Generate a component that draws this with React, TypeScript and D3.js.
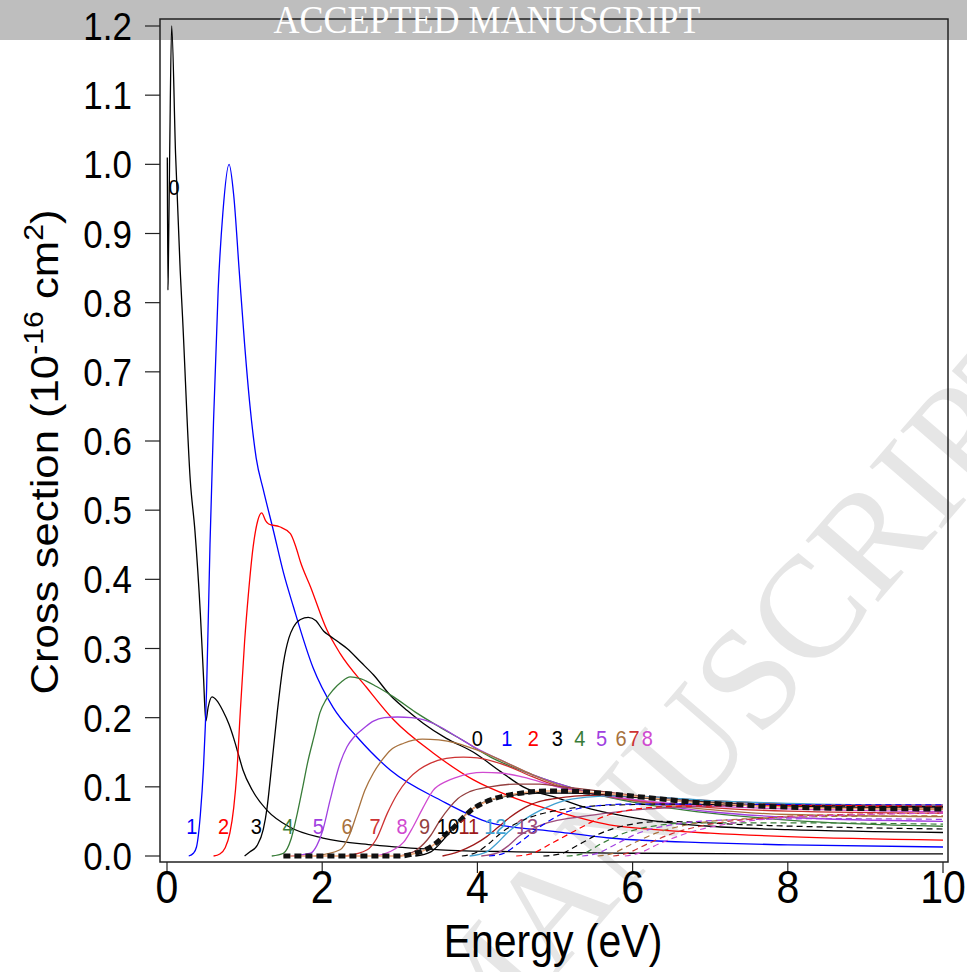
import React from "react";
import * as d3 from "d3";

type P = [number, number];

// ---- axis ticks ----
const xTicks = [0, 2, 4, 6, 8, 10];
const yTicks = [0, 0.1, 0.2, 0.3, 0.4, 0.5, 0.6, 0.7, 0.8, 0.9, 1.0, 1.1, 1.2];

// ---- solid curves (v' = 0 .. 13) ----
const curve0: P[] = [[0.004,1.01],[0.012,0.818],[0.017,0.85],[0.035,1.02],[0.06,1.2],[0.11,1.016],[0.17,0.847],[0.2,0.78],[0.3,0.543],[0.36,0.47],[0.43,0.35],[0.47,0.26],[0.5,0.195],[0.53,0.215],[0.58,0.23],[0.64,0.225],[0.72,0.21],[0.8,0.19],[0.86,0.17],[0.92,0.147],[0.98,0.124],[1.1,0.095],[1.29,0.066],[1.58,0.042],[2.01,0.026],[2.66,0.016],[3.52,0.009],[4.5,0.006],[6,0.004],[8,0.003],[10,0.003]];
const curve1: P[] = [[0.28,0],[0.34,0.004],[0.38,0.013],[0.43,0.06],[0.47,0.128],[0.51,0.24],[0.554,0.45],[0.6,0.63],[0.66,0.82],[0.72,0.93],[0.8,1.0],[0.86,0.955],[0.93,0.847],[1.0,0.74],[1.07,0.65],[1.15,0.575],[1.24,0.53],[1.37,0.471],[1.5,0.41],[1.63,0.36],[1.88,0.273],[2.14,0.215],[2.45,0.172],[2.88,0.124],[3.52,0.081],[4.17,0.048],[5.03,0.035],[5.7,0.026],[7,0.019],[8,0.016],[10,0.013]];
const curve2: P[] = [[0.6,0],[0.68,0.003],[0.75,0.012],[0.81,0.033],[0.86,0.07],[0.9,0.12],[0.94,0.2],[1.0,0.31],[1.05,0.38],[1.11,0.447],[1.17,0.485],[1.22,0.496],[1.27,0.485],[1.31,0.48],[1.45,0.476],[1.59,0.466],[1.66,0.447],[1.72,0.425],[1.85,0.389],[2.06,0.327],[2.23,0.293],[2.57,0.244],[2.92,0.197],[3.43,0.149],[3.95,0.11],[4.5,0.083],[5.03,0.064],[5.7,0.045],[6.3,0.038],[7,0.033],[8,0.028],[10,0.023]];
const curve3: P[] = [[1.0,0],[1.07,0.006],[1.16,0.015],[1.24,0.038],[1.29,0.07],[1.33,0.11],[1.42,0.207],[1.5,0.279],[1.57,0.315],[1.63,0.331],[1.72,0.342],[1.82,0.345],[1.92,0.34],[2.02,0.325],[2.1,0.318],[2.2,0.31],[2.32,0.3],[2.5,0.28],[2.66,0.262],[2.88,0.232],[3.1,0.21],[3.3,0.192],[3.6,0.17],[3.95,0.15],[4.3,0.122],[4.59,0.1],[5.03,0.084],[5.4,0.07],[5.7,0.062],[6.2,0.052],[7,0.043],[8,0.038],[10,0.034]];
const curve4: P[] = [[1.35,0],[1.5,0.004],[1.6,0.025],[1.68,0.062],[1.75,0.1],[1.81,0.134],[1.9,0.175],[1.97,0.207],[2.05,0.226],[2.14,0.24],[2.25,0.252],[2.36,0.259],[2.5,0.256],[2.7,0.245],[2.92,0.23],[3.2,0.208],[3.52,0.186],[3.8,0.168],[4.17,0.143],[4.6,0.122],[5.03,0.105],[5.5,0.09],[6,0.078],[7,0.062],[8,0.052],[10,0.043]];
const curve5: P[] = [[1.6,0],[1.85,0.004],[1.93,0.015],[2.01,0.038],[2.1,0.08],[2.23,0.134],[2.32,0.158],[2.41,0.172],[2.55,0.186],[2.66,0.195],[2.8,0.2],[2.97,0.201],[3.15,0.2],[3.3,0.197],[3.5,0.188],[3.74,0.172],[4.0,0.155],[4.39,0.134],[4.7,0.118],[5.03,0.105],[5.5,0.09],[6,0.08],[7,0.064],[8,0.056],[10,0.05]];
const curve6: P[] = [[1.9,0],[2.23,0.009],[2.35,0.03],[2.45,0.062],[2.55,0.095],[2.66,0.12],[2.78,0.14],[2.88,0.153],[3.05,0.163],[3.29,0.169],[3.5,0.168],[3.74,0.163],[4.0,0.153],[4.39,0.134],[4.7,0.118],[5.03,0.103],[5.5,0.09],[6,0.08],[7,0.067],[8,0.06],[10,0.057]];
const curve7: P[] = [[2.3,0],[2.58,0.009],[2.7,0.025],[2.84,0.062],[2.97,0.09],[3.1,0.11],[3.25,0.125],[3.39,0.134],[3.6,0.141],[3.82,0.143],[4.0,0.142],[4.39,0.13],[4.7,0.115],[5.03,0.101],[5.5,0.09],[6,0.081],[7,0.07],[8,0.065],[10,0.062]];
const curve8: P[] = [[2.7,0],[2.92,0.009],[3.05,0.02],[3.17,0.042],[3.3,0.07],[3.43,0.095],[3.6,0.108],[3.74,0.114],[3.9,0.119],[4.07,0.121],[4.3,0.12],[4.59,0.114],[5.03,0.1],[5.5,0.09],[6,0.082],[7,0.072],[8,0.068],[10,0.064]];
const curve9: P[] = [[3.0,0],[3.22,0.009],[3.4,0.03],[3.52,0.052],[3.64,0.07],[3.75,0.083],[3.9,0.093],[4.16,0.1],[4.5,0.104],[4.8,0.104],[5.1,0.1],[5.5,0.095],[6,0.088],[7,0.078],[8,0.072],[10,0.067]];
const curve10: P[] = [[3.2,0],[3.4,0.006],[3.55,0.022],[3.7,0.042],[3.85,0.06],[4.0,0.073],[4.2,0.082],[4.45,0.088],[4.8,0.091],[5.2,0.091],[5.6,0.089],[6,0.085],[7,0.077],[8,0.072],[10,0.069]];
const curve11: P[] = [[3.55,0],[3.75,0.006],[3.95,0.016],[4.12,0.028],[4.27,0.042],[4.42,0.056],[4.55,0.066],[4.68,0.074],[4.85,0.08],[5.06,0.084],[5.3,0.087],[5.62,0.088],[6,0.087],[7,0.08],[8,0.075],[10,0.071]];
const curve12: P[] = [[3.9,0],[4.12,0.006],[4.25,0.018],[4.38,0.033],[4.55,0.048],[4.68,0.058],[4.81,0.066],[5.06,0.078],[5.41,0.085],[5.8,0.087],[6.3,0.085],[7,0.08],[8,0.076],[10,0.073]];
const curve13: P[] = [[4.05,0],[4.25,0.004],[4.4,0.015],[4.55,0.03],[4.72,0.04],[4.9,0.048],[5.1,0.053],[5.28,0.056],[5.67,0.062],[6.2,0.068],[7,0.072],[8,0.074],[10,0.074]];

// ---- dashed curves (labelled 0 .. 8 at the top) ----
const dashed0: P[] = [[3.8,0],[4.0,0.006],[4.15,0.018],[4.3,0.033],[4.5,0.047],[4.68,0.056],[4.9,0.063],[5.2,0.069],[5.6,0.073],[6.5,0.075],[8,0.073],[10,0.071]];
const dashed1: P[] = [[4.15,0],[4.32,0.003],[4.55,0.02],[4.78,0.04],[5.11,0.062],[5.5,0.072],[5.9,0.075],[7,0.075],[8.5,0.074],[10,0.074]];
const dashed2: P[] = [[4.5,0],[4.69,0.003],[4.95,0.018],[5.2,0.033],[5.63,0.057],[6.05,0.068],[6.6,0.072],[8,0.073],[10,0.072]];
const dashed3: P[] = [[4.85,0],[5.07,0.003],[5.3,0.016],[5.53,0.03],[5.9,0.044],[6.4,0.05],[7.5,0.045],[10,0.039]];
const dashed4: P[] = [[5.15,0],[5.35,0.003],[5.6,0.018],[5.82,0.03],[6.2,0.042],[6.8,0.048],[8,0.048],[10,0.046]];
const dashed5: P[] = [[5.35,0],[5.52,0.003],[5.8,0.018],[6.05,0.032],[6.5,0.045],[7.2,0.052],[8.5,0.054],[10,0.053]];
const dashed6: P[] = [[5.55,0],[5.72,0.003],[6.0,0.018],[6.3,0.033],[6.8,0.047],[7.5,0.054],[8.5,0.057],[10,0.058]];
const dashed7: P[] = [[5.75,0],[5.9,0.003],[6.2,0.018],[6.5,0.032],[7.0,0.046],[7.7,0.055],[8.7,0.06],[10,0.062]];
const dashed8: P[] = [[5.9,0],[6.05,0.003],[6.35,0.018],[6.7,0.033],[7.2,0.046],[7.9,0.055],[9,0.06],[10,0.062]];

// ---- thick dashed reference curve ----
const thickCurve: P[] = [[1.5,0],[3.0,0],[3.2,0.004],[3.35,0.01],[3.47,0.019],[3.58,0.03],[3.7,0.042],[3.82,0.056],[3.94,0.068],[4.08,0.077],[4.22,0.083],[4.4,0.088],[4.64,0.092],[4.9,0.094],[5.1,0.094],[5.58,0.091],[6.05,0.086],[6.4,0.082],[6.75,0.078],[7.2,0.075],[7.7,0.072],[8.6,0.069],[10,0.068]];

// ---- labels ----
const bottomLabels = ["1","2","3","4","5","6","7","8","9","10","11","12","13"];
const bottomLabelE = [0.32, 0.73, 1.15, 1.56, 1.95, 2.32, 2.68, 3.03, 3.32, 3.62, 3.89, 4.23, 4.64];
const bottomLabelY = 0.032;
const topLabels = ["0","1","2","3","4","5","6","7","8"];
const topLabelE = [4.0, 4.38, 4.72, 5.03, 5.32, 5.6, 5.85, 6.02, 6.19];
const topLabelY = 0.159;
const spikeLabel = { text: "0", e: 0.09, v: 0.955 };

const palette = ["#000000","#0000ff","#ff0000","#000000","#387c38","#a040e0","#a8723e","#cd3333","#d04ad0","#944040","#000000","#9e1a1a","#40a0d0","#9c4c7c"];
const solidCurves = [curve0,curve1,curve2,curve3,curve4,curve5,curve6,curve7,curve8,curve9,curve10,curve11,curve12,curve13];
const dashedCurves = [dashed0,dashed1,dashed2,dashed3,dashed4,dashed5,dashed6,dashed7,dashed8];

const FONT = "'Liberation Sans', Arial, Helvetica, sans-serif";
const SERIF = "'Liberation Serif', 'Times New Roman', serif";
const STRETCH = 1.12; // glyphs in the reference are slightly taller than wide

export default function App() {
  const W = 967, H = 972;
  const left = 160, right = 948, top = 19, bottom = 862;
  const x = d3.scaleLinear().domain([0, 10]).range([167, 943]);
  const y = d3.scaleLinear().domain([0, 1.2]).range([856, 26]);
  const line = d3.line<P>().x(d => x(d[0])).y(d => y(d[1])).curve(d3.curveMonotoneX);

  const label = (key: string, px: number, py: number, text: string, color: string, size = 20) => (
    <text key={key} transform={`translate(${px},${py}) scale(1,${STRETCH})`} textAnchor="middle"
      fontSize={size} fill={color}>{text}</text>
  );

  return (
    <svg width={W} height={H} viewBox={`0 0 ${W} ${H}`}
      style={{ position: "absolute", left: 0, top: 0, background: "#fff" }}
      fontFamily={FONT}>
      <defs>
        <clipPath id="plotclip">
          <rect x={left} y={top} width={right - left} height={bottom - top} />
        </clipPath>
      </defs>
      <rect x={0} y={0} width={W} height={H} fill="#fff" />
      {/* top banner */}
      <rect x={0} y={0} width={W} height={40} fill="#bebebe" />
      {/* diagonal watermark */}
      <text x={1080} y={368} textAnchor="end" fontFamily={SERIF}
        fontSize={145} fill="#e6e6e6" transform="rotate(-49.2 1080 368)">ACCEPTED MANUSCRIPT</text>

      {/* curves */}
      <g clipPath="url(#plotclip)" fill="none">
        {solidCurves.map((c, i) => (
          <path key={"s" + i} d={line(c) || ""} stroke={palette[i]} strokeWidth={1.3} />
        ))}
        {dashedCurves.map((c, i) => (
          <path key={"d" + i} d={line(c) || ""} stroke={palette[i]} strokeWidth={1.2} strokeDasharray="6,4" />
        ))}
        <path d={line(thickCurve) || ""} stroke="#f2a878" strokeWidth={1.5} />
        <path d={line(thickCurve) || ""} stroke="#111" strokeWidth={5} strokeDasharray="7,4" />
      </g>

      {/* frame */}
      <rect x={left} y={top} width={right - left} height={bottom - top} fill="none" stroke="#222" strokeWidth={1.5} />

      {/* x axis */}
      {xTicks.map(t => (
        <g key={"xt" + t}>
          <line x1={x(t)} x2={x(t)} y1={bottom} y2={bottom + 11} stroke="#222" strokeWidth={1.2} />
          <text transform={`translate(${x(t)},903) scale(1,${STRETCH})`} textAnchor="middle" fontSize={41} fill="#000">{t}</text>
        </g>
      ))}
      <text transform={`translate(553,957) scale(1,${STRETCH})`} textAnchor="middle" fontSize={41} fill="#000">Energy (eV)</text>

      {/* y axis */}
      {yTicks.map(t => (
        <g key={"yt" + t}>
          <line x1={left - 15} x2={left} y1={y(t)} y2={y(t)} stroke="#222" strokeWidth={1.2} />
          <text transform={`translate(132,${y(t)}) scale(1,${STRETCH})`} y={12.5} textAnchor="end" fontSize={35} fill="#000">{d3.format(".1f")(t)}</text>
        </g>
      ))}
      <text transform={`translate(58,452) rotate(-90) scale(${STRETCH},1)`} textAnchor="middle" fontSize={39} fill="#000">
        Cross section (10<tspan fontSize={27} dy={-15}>-16</tspan><tspan dy={15}> cm</tspan><tspan fontSize={27} dy={-15}>2</tspan><tspan dy={15}>)</tspan>
      </text>

      {/* curve labels */}
      {label("spk", x(spikeLabel.e), y(spikeLabel.v), spikeLabel.text, "#000")}
      {bottomLabels.map((l, i) => label("bl" + i, x(bottomLabelE[i]), y(bottomLabelY), l, palette[i + 1]))}
      {topLabels.map((l, i) => label("tl" + i, x(topLabelE[i]), y(topLabelY), l, palette[i]))}

      {/* banner text */}
      <text transform="translate(487,33) scale(1,1.12)" textAnchor="middle" fontFamily={SERIF} fontSize={36} fill="#fff">ACCEPTED MANUSCRIPT</text>
    </svg>
  );
}
